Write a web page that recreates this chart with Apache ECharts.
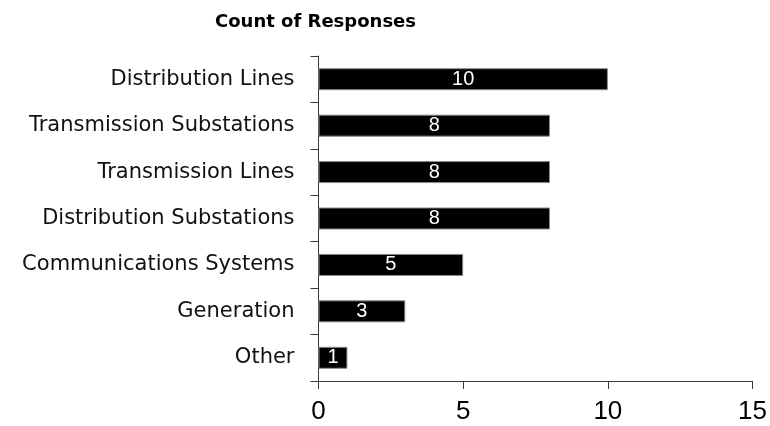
<!DOCTYPE html>
<html>
<head>
<meta charset="utf-8">
<script src="https://cdn.jsdelivr.net/npm/echarts@6/dist/echarts.min.js"></script>
<style>
  html, body { margin: 0; padding: 0; background: #ffffff; }
  #chart { width: 770px; height: 426px; }
</style>
</head>
<body>
<div id="chart"></div>
<script>
// Survey response counts by asset type
const titleText = 'Count of Responses';
const categories = [
  'Distribution Lines',
  'Transmission Substations',
  'Transmission Lines',
  'Distribution Substations',
  'Communications Systems',
  'Generation',
  'Other'
];
const counts = [10, 8, 8, 8, 5, 3, 1];
const valueTicks = [0, 5, 10, 15];

const axisColor = '#3a3a3a';

const chart = echarts.init(document.getElementById('chart'), null, { renderer: 'canvas' });

chart.setOption({
  backgroundColor: '#ffffff',
  animation: false,
  title: {
    text: titleText,
    left: 210,
    top: 8,
    textStyle: {
      fontFamily: 'DejaVu Sans',
      fontWeight: 'bold',
      fontSize: 18,
      color: '#000000'
    }
  },
  grid: {
    left: 318.5,
    right: 13.5,
    top: 56,
    bottom: 45,
    containLabel: false
  },
  xAxis: {
    type: 'value',
    min: valueTicks[0],
    max: valueTicks[valueTicks.length - 1],
    interval: valueTicks[1] - valueTicks[0],
    axisLine: { show: true, lineStyle: { color: axisColor, width: 1 } },
    axisTick: { show: true, length: 8, lineStyle: { color: axisColor, width: 1 } },
    splitLine: { show: false },
    axisLabel: {
      margin: 18,
      fontFamily: 'Liberation Sans',
      fontSize: 26,
      color: '#000000'
    }
  },
  yAxis: {
    type: 'category',
    data: categories,
    inverse: true,
    axisLine: { show: true, lineStyle: { color: axisColor, width: 1 } },
    axisTick: { show: true, length: 8, alignWithLabel: false, lineStyle: { color: axisColor, width: 1 } },
    axisLabel: {
      margin: 24,
      fontFamily: 'DejaVu Sans',
      fontSize: 21,
      color: '#111111'
    }
  },
  series: [{
    type: 'bar',
    data: counts,
    barWidth: 22,
    itemStyle: {
      color: '#000000',
      borderColor: '#8a8a8a',
      borderWidth: 1
    },
    label: {
      show: true,
      position: 'inside',
      fontFamily: 'Liberation Sans',
      fontSize: 20,
      color: '#ffffff'
    }
  }]
});
</script>
</body>
</html>
